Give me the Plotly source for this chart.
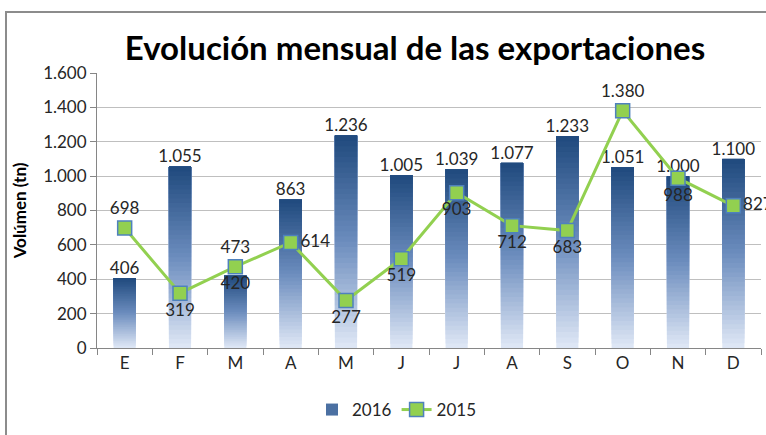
import plotly.graph_objects as go

months = ["E", "F", "M", "A", "M", "J", "J", "A", "S", "O", "N", "D"]
vol_2016 = [406, 1055, 420, 863, 1236, 1005, 1039, 1077, 1233, 1051, 1000, 1100]
vol_2015 = [698, 319, 473, 614, 277, 519, 903, 712, 683, 1380, 988, 827]
pos_2015 = ["top center", "bottom center", "top center", "middle right", "bottom center",
            "bottom center", "bottom center", "bottom center", "bottom center",
            "top center", "bottom center", "middle right"]
pos_2016 = ["top center", "top center", "bottom center", "top center", "top center",
            "top center", "top center", "top center", "top center", "top center",
            "top center", "top center"]

idx = list(range(len(months)))

W, H = 766, 435
L, R, T, B = 97, 5, 73, 87
pw, ph = W - L - R, H - T - B

FONT = "Lato, Calibri, sans-serif"
TXT = "#262626"

top_c = (31, 73, 125)
mid_c = (108, 141, 190)
bot_c = (224, 232, 246)


def grad(t):
    # t = 0 bottom, 1 top
    if t < 0.5:
        a, b, u = bot_c, mid_c, t / 0.5
    else:
        a, b, u = mid_c, top_c, (t - 0.5) / 0.5
    return "rgb(%d,%d,%d)" % tuple(round(a[i] + (b[i] - a[i]) * u) for i in range(3))


fig = go.Figure()
N = 40
for k in range(N):
    fig.add_trace(go.Bar(
        x=idx,
        y=[v * (N - k) / N for v in vol_2016],
        base=[v * k / N for v in vol_2016],
        width=0.4,
        marker=dict(color=grad((k + 0.5) / N), line=dict(width=0)),
        name="2016",
        showlegend=(k == N - 12),
        legendrank=1,
        hoverinfo="skip",
    ))

fig.add_trace(go.Scatter(
    x=idx, y=vol_2016, mode="text", text=vol_2016,
    texttemplate="%{y:,}", textposition=pos_2016,
    textfont=dict(family=FONT, size=17, color=TXT),
    showlegend=False, hoverinfo="skip", cliponaxis=False,
))

fig.add_trace(go.Scatter(
    x=idx, y=vol_2015, mode="lines+markers+text", name="2015",
    line=dict(color="#92D050", width=3),
    marker=dict(symbol="square", size=14, color="#92D050",
                line=dict(color="#4F81BD", width=1.5)),
    texttemplate="%{y:,}", textposition=pos_2015,
    textfont=dict(family=FONT, size=17, color=TXT),
    legendrank=2, cliponaxis=False,
))

fig.add_shape(type="rect", xref="paper", yref="paper",
              x0=(6 - L) / pw, x1=(W + 5 - L) / pw,
              y0=(T + ph - (H + 5)) / ph, y1=(T + ph - 12) / ph,
              line=dict(color="#8C8C8C", width=2), fillcolor="rgba(0,0,0,0)", layer="below")

fig.update_layout(
    width=W, height=H,
    margin=dict(l=L, r=R, t=T, b=B, autoexpand=False),
    paper_bgcolor="white", plot_bgcolor="white",
    separators=",.",
    barmode="overlay",
    font=dict(family=FONT, size=17, color=TXT),
    title=dict(text="<b>Evolución mensual de las exportaciones</b>",
               font=dict(family=FONT, size=33, color="#000000"),
               x=415 / W, xanchor="center", xref="container",
               y=1 - 48 / H, yanchor="middle", yref="container"),
    legend=dict(orientation="h", xref="container", yref="container",
                x=397 / W, xanchor="center", y=(H - 410) / H, yanchor="middle",
                font=dict(family=FONT, size=17, color=TXT), traceorder="normal"),
    showlegend=True,
)

fig.update_xaxes(
    type="category", tickmode="array", tickvals=idx, ticktext=months,
    tickson="boundaries", ticks="outside", ticklen=6, tickcolor="#868686",
    showline=True, linecolor="#868686", linewidth=1,
    showgrid=False, range=[-0.5, 11.5], automargin=False,
    tickfont=dict(family=FONT, size=17, color=TXT),
)
fig.update_yaxes(
    range=[0, 1600], dtick=200, tick0=0, separatethousands=True,
    ticks="outside", ticklen=6, tickcolor="#868686",
    showline=True, linecolor="#868686", linewidth=1,
    showgrid=True, gridcolor="#BFBFBF", gridwidth=1, zeroline=False,
    automargin=False,
    tickfont=dict(family=FONT, size=17, color=TXT),
    title=dict(text="<b>Volúmen (tn)</b>", font=dict(family=FONT, size=17, color="#000000"),
               standoff=12),
)

fig.write_html("out.html", config={"displayModeBar": False},
               post_script="document.body.style.margin='0';document.body.style.padding='0';")
